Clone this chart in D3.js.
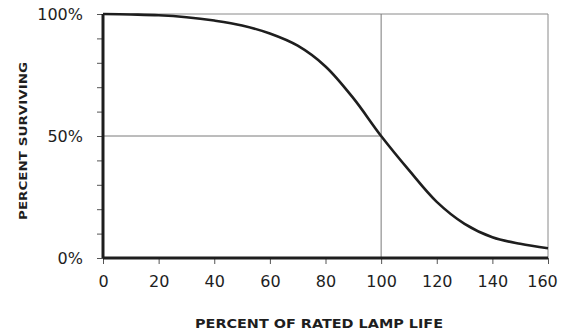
<!DOCTYPE html>
<html>
<head>
<meta charset="utf-8">
<script src="https://cdn.jsdelivr.net/npm/d3@7"></script>
<style>
  html, body { margin: 0; padding: 0; background: #fff; }
  svg { display: block; }
</style>
</head>
<body>
<div id="chart"></div>
<script>
// ---- data ----
const lifePct   = [0, 10, 20, 30, 40, 50, 60, 70, 80, 90, 100, 110, 120, 130, 140, 150, 160];
const surviving = [100, 99.8, 99.5, 98.7, 97.3, 95.3, 92, 87, 78.5, 65.5, 50, 36, 23, 14, 8.5, 5.8, 4];
const xTickValues = [0, 20, 40, 60, 80, 100, 120, 140, 160];
const yMinorTicks = [0, 10, 20, 30, 40, 50, 60, 70, 80, 90, 100];
const yLabelValues = [0, 50, 100];
const yLabelText = ["0%", "50%", "100%"];
const xTitle = "PERCENT OF RATED LAMP LIFE";
const yTitle = "PERCENT SURVIVING";
const refX = 100, refY = 50;

// ---- layout ----
const W = 561, H = 334;
const m = { left: 103, right: 13, top: 14, bottom: 76 };
const iw = W - m.left - m.right, ih = H - m.top - m.bottom;

const svg = d3.select("#chart").append("svg").attr("width", W).attr("height", H);
const g = svg.append("g").attr("transform", `translate(${m.left},${m.top})`);

const x = d3.scaleLinear().domain([0, 160]).range([0, iw]);
const y = d3.scaleLinear().domain([0, 100]).range([ih, 0]);

const ink = "#1e1e1e";
const font = "DejaVu Sans, sans-serif";

// thin top & right frame
g.append("line").attr("x1", 0).attr("x2", iw).attr("y1", 0).attr("y2", 0)
  .attr("stroke", "#8a8a8a").attr("stroke-width", 1);
g.append("line").attr("x1", iw).attr("x2", iw).attr("y1", 0).attr("y2", ih)
  .attr("stroke", "#8a8a8a").attr("stroke-width", 1);

// reference lines
g.append("line").attr("x1", x(refX)).attr("x2", x(refX)).attr("y1", 0).attr("y2", ih)
  .attr("stroke", "#7a7a7a").attr("stroke-width", 1);
g.append("line").attr("x1", 0).attr("x2", x(refX)).attr("y1", y(refY)).attr("y2", y(refY))
  .attr("stroke", "#7a7a7a").attr("stroke-width", 1);

// x axis ticks (downward) and labels
const xAxis = d3.axisBottom(x).tickValues(xTickValues).tickSize(6).tickPadding(12)
  .tickFormat(d3.format("d"));
const xa = g.append("g").attr("transform", `translate(0,${ih})`).call(xAxis);
xa.select(".domain").remove();
xa.selectAll(".tick line").attr("stroke", "#555").attr("stroke-width", 1);
xa.selectAll(".tick text").attr("fill", ink).attr("font-family", font).attr("font-size", 16)
  .attr("dx", d => d === 160 ? -6 : 0);

// y axis minor ticks (left)
const yAxisTicks = d3.axisLeft(y).tickValues(yMinorTicks).tickSize(6).tickFormat("");
const ya = g.append("g").call(yAxisTicks);
ya.select(".domain").remove();
ya.selectAll(".tick line").attr("stroke", "#555").attr("stroke-width", 1);

// y labels
const yAxisLabels = d3.axisLeft(y).tickValues(yLabelValues).tickSize(0).tickPadding(20)
  .tickFormat(d => yLabelText[yLabelValues.indexOf(d)]);
const yl = g.append("g").call(yAxisLabels);
yl.select(".domain").remove();
yl.selectAll(".tick text").attr("fill", ink).attr("font-family", font).attr("font-size", 16);

// thick left & bottom axes
g.append("line").attr("x1", 0).attr("x2", 0).attr("y1", 0).attr("y2", ih)
  .attr("stroke", ink).attr("stroke-width", 3);
g.append("line").attr("x1", 0).attr("x2", iw).attr("y1", ih).attr("y2", ih)
  .attr("stroke", ink).attr("stroke-width", 3);

// curve
const line = d3.line().x((d, i) => x(lifePct[i])).y(d => y(d)).curve(d3.curveCatmullRom.alpha(0.5));
g.append("path").datum(surviving).attr("d", line)
  .attr("fill", "none").attr("stroke", ink).attr("stroke-width", 2.6)
  .attr("stroke-linejoin", "round");

// axis titles
svg.append("text").attr("x", 319).attr("y", 328).attr("text-anchor", "middle")
  .attr("font-family", font).attr("font-size", 12).attr("font-weight", 600).attr("fill", ink)
  .attr("textLength", 248).attr("lengthAdjust", "spacingAndGlyphs")
  .text(xTitle);
svg.append("text").attr("transform", "translate(27,141) rotate(-90)")
  .attr("text-anchor", "middle")
  .attr("font-family", font).attr("font-size", 11).attr("font-weight", 600).attr("fill", ink)
  .attr("textLength", 158).attr("lengthAdjust", "spacingAndGlyphs")
  .text(yTitle);
</script>
</body>
</html>
